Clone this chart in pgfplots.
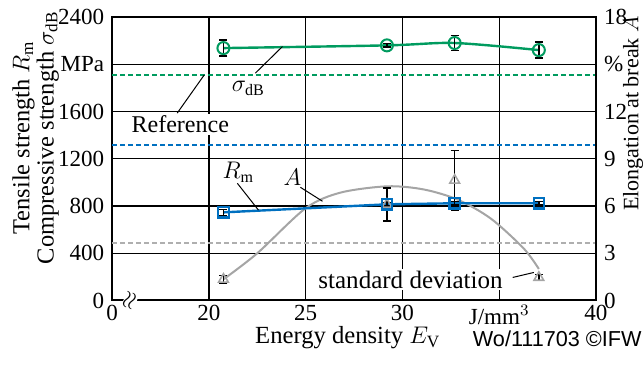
\documentclass[border=0pt]{standalone}
\usepackage{pgfplots}
\pgfplotsset{compat=1.18}
\usepackage{pgfplotstable}
\usepackage{fontspec}
\setmainfont{Liberation Serif}
\newfontfamily\sansfont{Liberation Sans}
\definecolor{sgreen}{RGB}{0,155,95}
\definecolor{rblue}{RGB}{0,112,192}
\definecolor{agray}{RGB}{165,165,165}
\definecolor{dgray}{RGB}{175,175,175}

% compressive strength sigma_dB (MPa)
\pgfplotstableread{
x s e
20.75 2137 68
29.2 2160 15
32.7 2180 64
37.05 2120 68
}\sigmadata
% tensile strength R_m (MPa)
\pgfplotstableread{
x r e
20.75 746 25
29.2 814 15
32.7 823 15
37.05 823 15
}\rmdata
% elongation at break A (%)
\pgfplotstableread{
x A e
20.75 1.34 0.25
29.2 6.1 1.05
32.7 7.63 1.9
37.05 1.46 0.2
}\adata
% fitted curve of A (%)
\pgfplotstableread{
x A
20.75 1.34
22.5 3.0
24.99 5.85
26.8 6.85
29.23 7.25
31.1 7.05
32.86 6.40
34.57 5.20
36.27 3.30
37.05 2.0
}\afit

\pgfplotsset{
  errbars/.style={draw=none, mark=none, forget plot,
    error bars/.cd, y dir=both, y explicit,
    error bar style={draw=black, solid, line width=0.7pt},
    error mark options={rotate=90, draw=black, solid, mark size=2pt, line width=0.7pt}},
}

\begin{document}
\fontsize{11.5}{13}\selectfont
\begin{tikzpicture}[font=\fontsize{11.5}{13}\selectfont]
\begin{axis}[
  scale only axis, width=241.5pt, height=141.5pt,
  xmin=15, xmax=40, ymin=0, ymax=2400,
  clip=false,
  axis line style={line width=1pt},
  xtick={15,20,25,30,35,40},
  xticklabels={0,20,25,30,{J/mm$^{3}$},40},
  ytick={0,400,800,1200,1600,2000,2400},
  yticklabels={0,400,800,1200,1600,MPa,2400},
  major tick length=0pt,
  xmajorgrids, ymajorgrids,
  grid style={black, line width=0.6pt},
  /pgf/number format/assume math mode=true,
  ticklabel style={font=\fontsize{11.5}{13}\selectfont},
  xticklabel style={yshift=1.5pt},
  xlabel={\fontsize{12.3}{14}\selectfont Energy density $E_\mathrm{V}$},
  xlabel style={at={(axis description cs:0.487,-0.132)}, anchor=center},
  ylabel={\fontsize{12.2}{10.2}\selectfont Tensile strength $R_\mathrm{m}$\\\fontsize{12.2}{10.2}\selectfont Compressive strength $\sigma_\mathrm{dB}$},
  ylabel style={at={(axis description cs:-0.158,0.574)}, anchor=center, align=center, font=\fontsize{12.2}{10.2}\selectfont},
]
% reference lines
\addplot[sgreen, line width=1pt, dash pattern=on 2.5pt off 1.5pt, forget plot] coordinates {(15,1910) (40,1910)};
\addplot[rblue, line width=1pt, dash pattern=on 2.5pt off 1.5pt, forget plot] coordinates {(15,1320) (40,1320)};
\addplot[dgray, line width=1pt, dash pattern=on 2.5pt off 1.5pt, forget plot] coordinates {(15,490) (40,490)};
% A fit curve and points
\addplot[agray, line width=1pt, smooth, forget plot] table[x=x, y expr=\thisrow{A}*400/3] {\afit};
\addplot[agray, only marks, mark=triangle, mark size=2.8pt, mark options={fill=white, line width=0.8pt}, forget plot] table[x=x, y expr=\thisrow{A}*400/3] {\adata};
% sigma_dB
\addplot[sgreen, line width=1.2pt, smooth, mark=o, mark size=3pt, mark options={fill=white, line width=1pt}, forget plot] table[x=x, y=s] {\sigmadata};
% R_m
\addplot[rblue, line width=1.2pt, mark=square, mark size=2.6pt, mark options={fill=white, line width=1.1pt}, forget plot] table[x=x, y=r] {\rmdata};
% error bars
\addplot[errbars] table[x=x, y=s, y error=e] {\sigmadata};
\addplot[errbars] table[x=x, y=r, y error=e] {\rmdata};
\addplot[errbars] table[x=x, y expr=\thisrow{A}*400/3, y error expr=\thisrow{e}*400/3] {\adata};
% annotations
\draw[black, line width=0.5pt] (axis cs:22.40,1925) -- (axis cs:23.80,2150);
\node[fill=white, inner sep=1pt, font=\fontsize{12}{13}\selectfont] at (axis cs:22.04,1798) {$\sigma_\mathrm{dB}$};
\draw[black, line width=0.5pt] (axis cs:18.36,1586) -- (axis cs:19.76,1910);
\node[fill=white, inner sep=1pt, font=\fontsize{12}{13}\selectfont] at (axis cs:18.52,1493) {Reference};
\draw[black, line width=0.5pt] (axis cs:21.47,992) -- (axis cs:22.56,765);
\node[inner sep=1pt, font=\fontsize{12}{13}\selectfont] at (axis cs:21.52,1085) {$R_\mathrm{m}$};
\draw[black, line width=0.5pt] (axis cs:24.73,958) -- (axis cs:25.87,840);
\node[inner sep=1pt, font=\fontsize{12}{13}\selectfont] at (axis cs:24.32,1043) {$A$};
\draw[black, line width=0.5pt] (axis cs:35.70,195) -- (axis cs:36.79,237);
\node[fill=white, inner sep=1pt, font=\fontsize{12.5}{13}\selectfont] at (axis cs:30.42,178) {standard deviation};
\node[fill=white, inner sep=0.3pt, rotate=70] at (axis cs:15.93,0) {$\approx$};
\end{axis}
\begin{axis}[
  scale only axis, width=241.5pt, height=141.5pt,
  xmin=15, xmax=40, ymin=0, ymax=18,
  clip=false,
  axis y line*=right, axis x line=none,
  axis line style={line width=1pt},
  ytick={0,3,6,9,12,15,18},
  yticklabels={0,3,6,9,12,\%,18},
  major tick length=0pt,
  /pgf/number format/assume math mode=true,
  ticklabel style={font=\fontsize{11.5}{13}\selectfont},
]
\addplot[draw=none, forget plot] coordinates {(20,0)};
\end{axis}
\node[rotate=90, anchor=center, font=\fontsize{11}{13}\selectfont] at (260pt,0.66*141.5pt) {Elongation at break $A$};
\node[anchor=base east, inner sep=0pt, font=\sansfont\fontsize{10.8}{12}\selectfont] at (264.5pt,-23pt) {Wo/111703 ©IFW};
\pgfresetboundingbox
\path (-56pt,-34.5pt) rectangle (265.5pt,150pt);
\end{tikzpicture}
\end{document}
